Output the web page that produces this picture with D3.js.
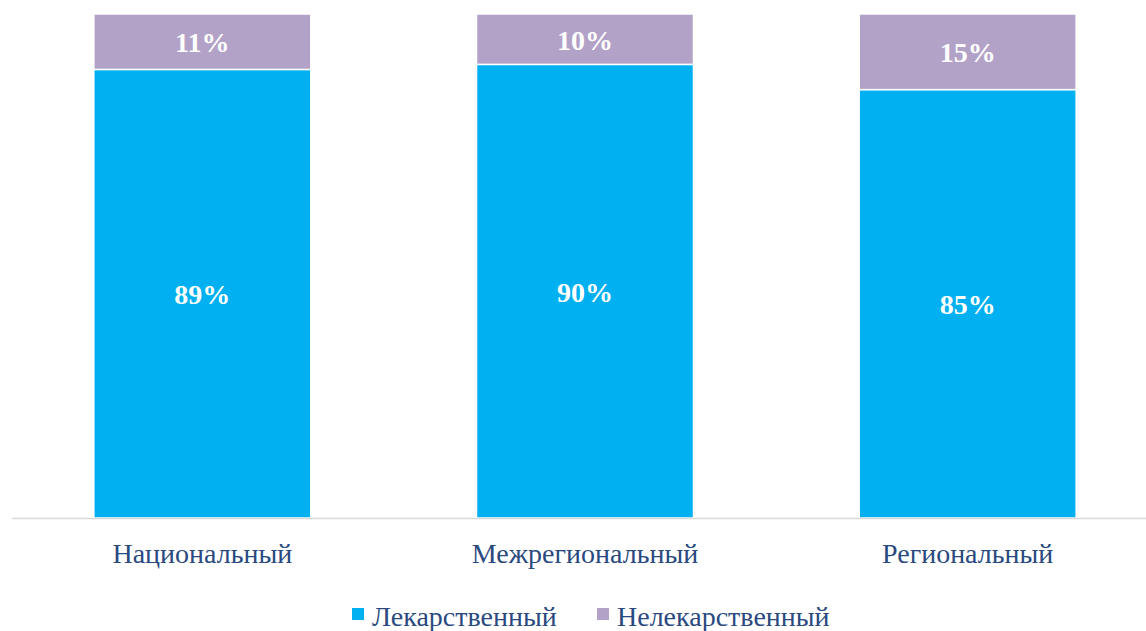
<!DOCTYPE html>
<html><head><meta charset="utf-8">
<script src="https://cdn.jsdelivr.net/npm/d3@7"></script>
<style>body{margin:0;background:#fff}svg{display:block}</style>
</head><body>
<svg id="c" width="1146" height="631"></svg>
<script>
const categories = ["Национальный", "Межрегиональный", "Региональный"];
const drugValues = [89, 90, 85];
const nonDrugValues = [11, 10, 15];
const seriesNames = ["Лекарственный", "Нелекарственный"];
const colors = ["#00B0F0", "#B3A2C7"];

const svg = d3.select("#c");
const W = 1146, H = 631;
const x = d3.scaleBand().domain(categories).range([11, 1159]).paddingInner(0.433).paddingOuter(0.2165);
const y = d3.scaleLinear().domain([0, 100]).range([518, 14]);

const data = categories.map((c, i) => ({cat: c, a: drugValues[i], b: nonDrugValues[i]}));
const stack = d3.stack().keys(["a", "b"])(data);

const g = svg.append("g");
stack.forEach((layer, li) => {
  g.selectAll(null).data(layer).enter().append("rect")
    .attr("x", d => x(d.data.cat))
    .attr("width", x.bandwidth())
    .attr("y", d => y(d[1]))
    .attr("height", d => y(d[0]) - y(d[1]))
    .attr("fill", colors[li])
    .attr("stroke", "#fff").attr("stroke-width", 1.5);
  g.selectAll(null).data(layer).enter().append("text")
    .attr("x", d => x(d.data.cat) + x.bandwidth() / 2)
    .attr("y", d => (y(d[0]) + y(d[1])) / 2)
    .attr("dy", "0.37em")
    .attr("text-anchor", "middle")
    .attr("fill", "#fff")
    .attr("font-family", "Liberation Serif, serif")
    .attr("font-weight", "bold")
    .attr("font-size", 28)
    .text(d => (d[1] - d[0]) + "%");
});

svg.append("line").attr("x1", 12).attr("x2", W).attr("y1", 518.5).attr("y2", 518.5)
  .attr("stroke", "#D9D9D9").attr("stroke-width", 1.5);

const xAxis = svg.append("g").attr("transform", "translate(0,518)")
  .call(d3.axisBottom(x).tickSize(0));
xAxis.select(".domain").remove();
xAxis.selectAll("text").attr("y", 45).attr("dy", 0)
  .attr("font-family", "Liberation Serif, serif").attr("font-size", 28).attr("fill", "#2A4A7F");

const legend = svg.append("g");
const items = [{x: 352, name: seriesNames[0], c: colors[0]}, {x: 597, name: seriesNames[1], c: colors[1]}];
items.forEach(it => {
  legend.append("rect").attr("x", it.x).attr("y", 608).attr("width", 12).attr("height", 12).attr("fill", it.c);
  legend.append("text").attr("x", it.x + 20).attr("y", 626)
    .attr("font-family", "Liberation Serif, serif").attr("font-size", 28).attr("fill", "#2A4A7F").text(it.name);
});
</script>
</body></html>
